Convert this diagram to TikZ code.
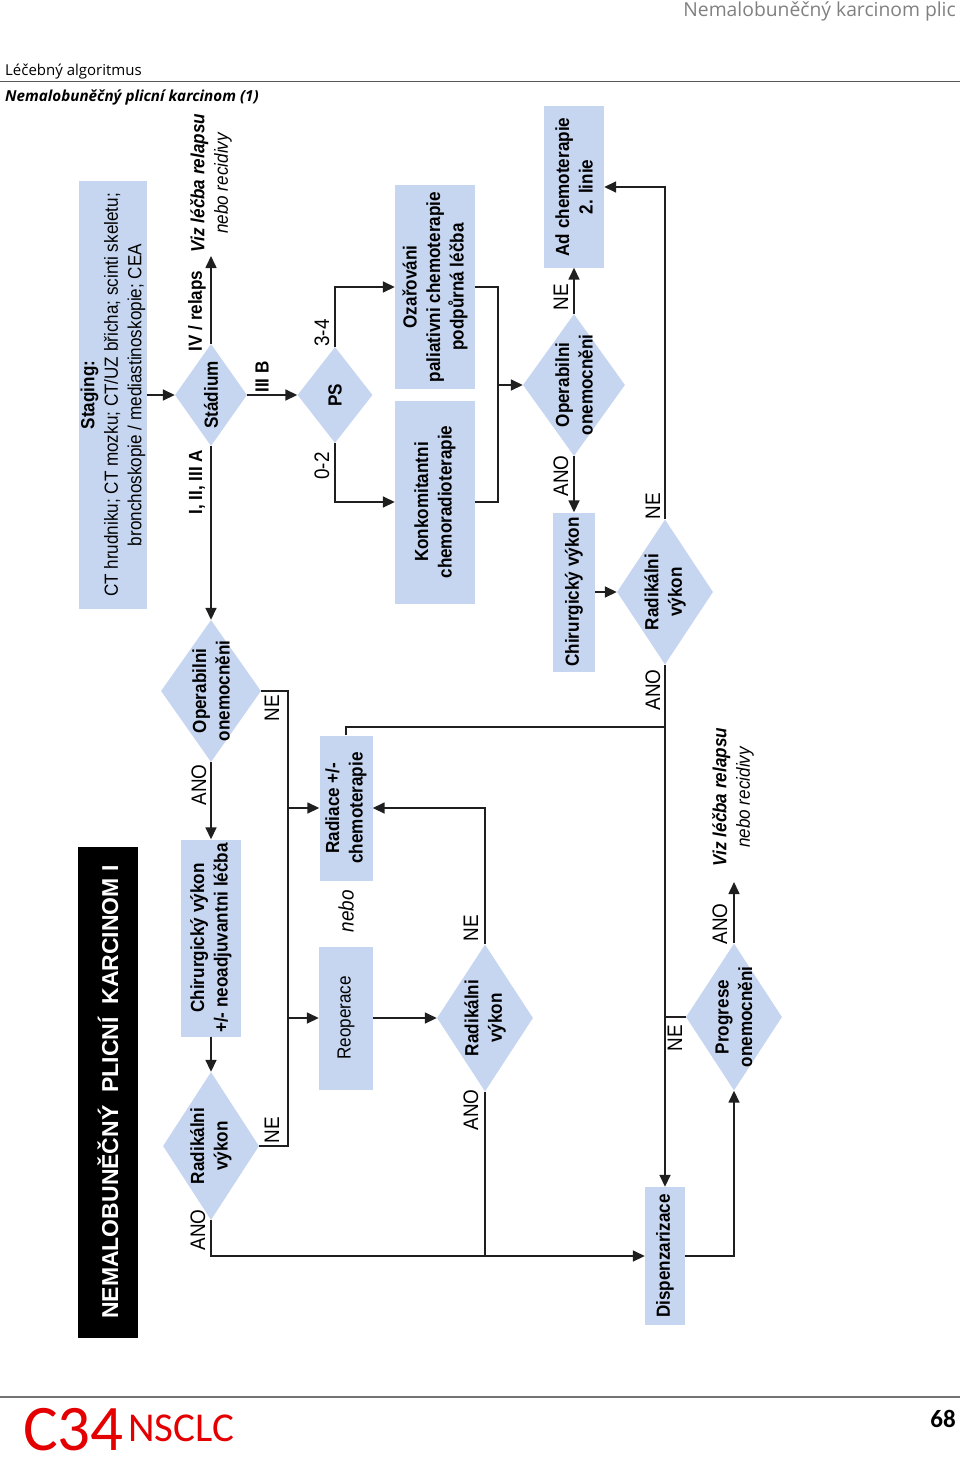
\documentclass[tikz,border=0pt]{standalone}
\usepackage{fontspec}
\setmainfont{Liberation Sans}
\newfontfamily\nar[FakeStretch=0.9]{Liberation Sans}
\newfontfamily\hdr{Open Sans}
\newfontfamily\carlitofont{Carlito}
\usetikzlibrary{arrows.meta,shapes.geometric}
\definecolor{boxblue}{RGB}{198,214,240}
\definecolor{hdrgray}{RGB}{128,128,128}
\definecolor{c34red}{RGB}{228,0,0}
\begin{document}
\begin{tikzpicture}[x=1pt,y=-1pt,
  box/.style={fill=boxblue, draw=none, inner sep=0pt},
  dia/.style={diamond, fill=boxblue, draw=none, inner sep=0pt},
  txt/.style={rotate=90, align=center, inner sep=0pt, font=\nar\fontsize{19}{23.5}\selectfont},
  btxt/.style={txt, font=\nar\bfseries\fontsize{19}{23.5}\selectfont},
  lab/.style={rotate=90, inner sep=0pt, font=\nar\fontsize{21}{23}\selectfont},
  blab/.style={rotate=90, inner sep=0pt, font=\nar\bfseries\fontsize{19}{23}\selectfont},
  con/.style={line width=1.6pt, draw=black!88},
  arr/.style={con, -{Triangle[length=12pt,width=11pt]}},
]
\useasboundingbox (0,0) rectangle (960,1458);

% ---------- page header ----------
\node[anchor=base east, inner sep=0pt, text=hdrgray, font=\hdr\fontsize{19.3}{21}\selectfont] (hd) at (956,17) {Nemalobuněčný karcinom plic};
\node[anchor=base west, inner sep=0pt, font=\hdr\fontsize{15}{17}\selectfont] (sec) at (5,76) {Léčebný algoritmus};
\draw[line width=1pt, black!65] (0,81.5) -- (960,81.5);
\node[anchor=base west, inner sep=0pt, font=\hdr\bfseries\itshape\fontsize{15.2}{17}\selectfont] (sub) at (5,102) {Nemalobuněčný plicní karcinom (1)};

% ---------- footer ----------
\draw[line width=1.2pt, black!55] (0,1397) -- (960,1397);
\node[anchor=base west, inner sep=0pt, text=c34red, font=\carlitofont\fontsize{65}{65}\selectfont] (c34) at (23,1450) {C34};
\node[anchor=base west, inner sep=0pt, text=c34red, font=\carlitofont\fontsize{41}{41}\selectfont] (nsclc) at (128,1441) {NSCLC};
\node[anchor=base east, inner sep=0pt, font=\carlitofont\bfseries\fontsize{25}{25}\selectfont] (pg) at (956,1427) {68};

% ---------- title bar ----------
\node[fill=black, inner sep=0pt, minimum width=60, minimum height=491] (title) at (108,1092.5) {};
\node[rotate=90, inner sep=0pt, text=white, font=\bfseries\fontsize{23}{25}\selectfont] (titleT) at (108,1092) {NEMALOBUNĚČNÝ\ \ PLICNÍ\ \ KARCINOM I};

% ---------- boxes ----------
\node[box, minimum width=68, minimum height=428] (staging) at (113,395) {};
\node[txt] (stagingT) at (staging) {\textbf{Staging:}\\CT hrudniku; CT mozku; CT/UZ břicha; scinti skeletu;\\bronchoskopie / mediastinoskopie; CEA};

\node[box, minimum width=60, minimum height=197] (chir1) at (211,938) {};
\node[btxt] (chir1T) at (chir1) {Chirurgický výkon\\+/- neoadjuvantni léčba};

\node[box, minimum width=80, minimum height=203] (ozar) at (435,287) {};
\node[btxt] (ozarT) at (ozar) {Ozařováni\\paliativni chemoterapie\\podpůrná léčba};

\node[box, minimum width=80, minimum height=203] (konk) at (435,502) {};
\node[btxt] (konkT) at (konk) {Konkomitantni\\chemoradioterapie};

\node[box, minimum width=53, minimum height=145] (radiace) at (346,808) {};
\node[btxt] (radiaceT) at (radiace) {Radiace +/-\\chemoterapie};

\node[box, minimum width=54, minimum height=143] (reop) at (346,1018) {};
\node[txt] (reopT) at (reop) {Reoperace};

\node[box, minimum width=60, minimum height=161] (adch) at (574,187) {};
\node[btxt] (adchT) at (adch) {Ad chemoterapie\\2. linie};

\node[box, minimum width=42, minimum height=159] (chir2) at (574,592) {};
\node[btxt] (chir2T) at (chir2) {Chirurgický výkon};

\node[box, minimum width=40, minimum height=138] (disp) at (665,1256) {};
\node[btxt] (dispT) at (disp) {Dispenzarizace};

% ---------- diamonds ----------
\node[dia, minimum width=72, minimum height=102] (stadium) at (211,395) {};
\node[btxt] (stadiumT) at (stadium) {Stádium};

\node[dia, minimum width=100, minimum height=142] (op1) at (211,691) {};
\node[btxt] (op1T) at (op1) {Operabilni\\onemocněni};

\node[dia, minimum width=96, minimum height=148] (rad1) at (211,1146) {};
\node[btxt] (rad1T) at (rad1) {Radikálni\\výkon};

\node[dia, minimum width=75, minimum height=96] (ps) at (335,395) {};
\node[btxt] (psT) at (ps) {PS};

\node[dia, minimum width=96, minimum height=147] (rad2) at (485,1018) {};
\node[btxt] (rad2T) at (rad2) {Radikálni\\výkon};

\node[dia, minimum width=102, minimum height=142] (op2) at (574,385) {};
\node[btxt] (op2T) at (op2) {Operabilni\\onemocněni};

\node[dia, minimum width=96, minimum height=145] (rad3) at (665,592) {};
\node[btxt] (rad3T) at (rad3) {Radikálni\\výkon};

\node[dia, minimum width=96, minimum height=147] (prog) at (734,1017) {};
\node[btxt] (progT) at (prog) {Progrese\\onemocněni};

% ---------- free texts ----------
\node[txt] (viz1) at (211,183) {\textbf{\textit{Viz léčba relapsu}}\\\textit{nebo recidivy}};
\node[txt] (viz2) at (733,797) {\textbf{\textit{Viz léčba relapsu}}\\\textit{nebo recidivy}};
\node[lab, font=\nar\itshape\fontsize{21}{23}\selectfont] (nebo) at (346,911) {nebo};

% ---------- labels ----------
\node[blab] (lIV) at (197,311) {IV / relaps};
\node[blab] (lI) at (197,482) {I, II, III A};
\node[blab] (lIIIB) at (262,377) {III B};
\node[lab] (l34) at (322,333) {3-4};
\node[lab] (l02) at (322,466) {0-2};
\node[lab] (lano1) at (199,785) {ANO};
\node[lab] (lne1) at (272,708) {NE};
\node[lab] (lne2) at (272,1130) {NE};
\node[lab] (lano2) at (198,1230) {ANO};
\node[lab] (lne3) at (471,928) {NE};
\node[lab] (lano3) at (471,1110) {ANO};
\node[lab] (lano4) at (561,476) {ANO};
\node[lab] (lne4) at (561,297) {NE};
\node[lab] (lne5) at (653,506) {NE};
\node[lab] (lano5) at (653,690) {ANO};
\node[lab] (lne6) at (675,1038) {NE};
\node[lab] (lano6) at (720,924) {ANO};

% ---------- junction coordinates ----------
\coordinate (vizA) at (211,256);
\coordinate (vizB) at (734,882);
\coordinate (j1) at (498,385);
\coordinate (t1) at (665,727);
\coordinate (t2) at (665,1017);
\coordinate (nb) at (288,900);
\coordinate (b1) at (288,808);
\coordinate (b2) at (288,1018);
\coordinate (j2) at (485,1256);

% ---------- connectors ----------
\draw[arr] (staging.east) -- (stadium.west);
\draw[arr] (stadium.north) -- (vizA);
\draw[arr] (stadium.south) -- (op1.north);
\draw[arr] (stadium.east) -- (ps.west);
\draw[arr] (ps.north) |- (ozar.west);
\draw[arr] (ps.south) |- (konk.west);
\draw[con] (ozar.east) -| (j1);
\draw[con] (konk.east) -| (j1);
\draw[arr] (j1) -- (op2.west);
\draw[arr] (op2.north) -- (adch.south);
\draw[arr] (op2.south) -- (chir2.north);
\draw[arr] (chir2.east) -- (rad3.west);
\draw[arr] (rad3.north) |- (adch.east);
\draw[arr] (rad3.south) -- (disp.north);
\draw[con] (radiace.north) |- (t1);
\draw[arr] (op1.south) -- (chir1.north);
\draw[arr] (chir1.south) -- (rad1.north);
\draw[con] (op1.east) -| (nb) |- (rad1.east);
\draw[arr] (b1) -- (radiace.west);
\draw[arr] (b2) -- (reop.west);
\draw[arr] (reop.east) -- (rad2.west);
\draw[arr] (rad2.north) |- (radiace.east);
\draw[arr] (rad1.south) |- (disp.west);
\draw[con] (rad2.south) -- (j2);
\draw[arr] (disp.east) -| (prog.south);
\draw[con] (prog.west) -- (t2);
\draw[arr] (prog.north) -- (vizB);
\end{tikzpicture}
\end{document}
